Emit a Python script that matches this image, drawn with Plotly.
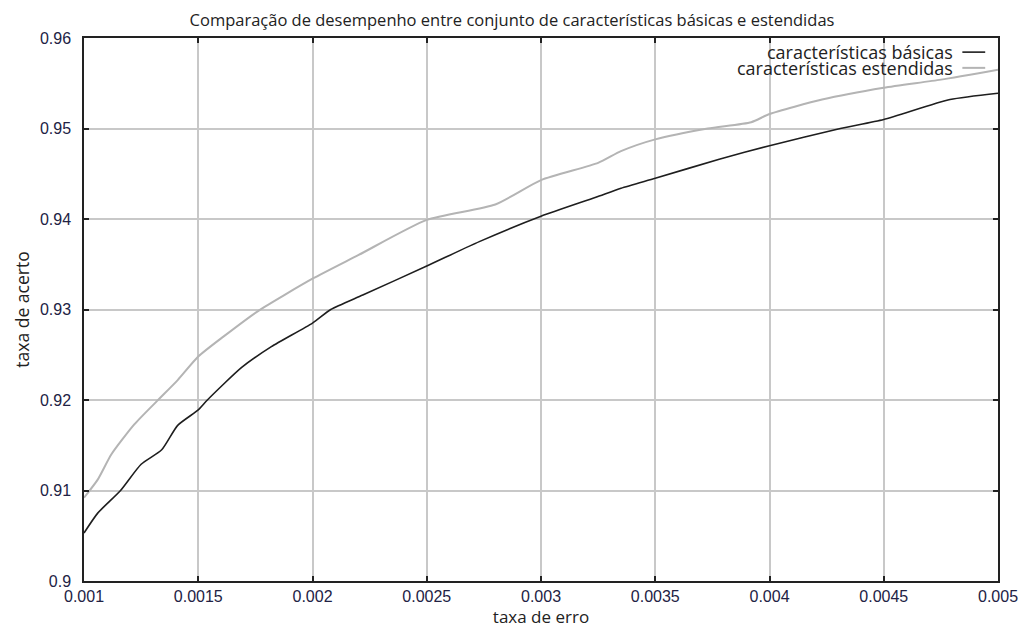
import plotly.graph_objects as go

# taxa de erro / taxa de acerto — características básicas
basic_x = [0.001, 0.00106, 0.00116, 0.00125, 0.00134, 0.00141, 0.0015, 0.00154,
           0.00169, 0.00182, 0.002, 0.00208, 0.00222, 0.0025, 0.00273, 0.003,
           0.00324, 0.00335, 0.0035, 0.00378, 0.004, 0.00431, 0.0045, 0.00479, 0.005]
basic_y = [0.9053, 0.9075, 0.9100, 0.9129, 0.9145, 0.9172, 0.9189, 0.9200,
           0.9236, 0.9259, 0.9285, 0.9300, 0.9316, 0.9348, 0.9375, 0.9403,
           0.9424, 0.9434, 0.9445, 0.9466, 0.9481, 0.9500, 0.9510, 0.9532, 0.9539]

# características estendidas
ext_x = [0.001, 0.00106, 0.00112, 0.00122, 0.00132, 0.00141, 0.0015, 0.00161, 0.00176,
         0.002, 0.0022, 0.0025, 0.0028, 0.003, 0.00325, 0.00335, 0.0035,
         0.00373, 0.00392, 0.004, 0.00423, 0.0045, 0.00475, 0.005]
ext_y = [0.9092, 0.9112, 0.9140, 0.9173, 0.9199, 0.9222, 0.9248, 0.9270, 0.9298,
         0.9334, 0.9360, 0.9399, 0.9416, 0.9443, 0.9462, 0.9475, 0.9488,
         0.9500, 0.9507, 0.9516, 0.9532, 0.9545, 0.9554, 0.9565]

x_ticks = [0.001, 0.0015, 0.002, 0.0025, 0.003, 0.0035, 0.004, 0.0045, 0.005]
x_tick_labels = ["0.001", "0.0015", "0.002", "0.0025", "0.003", "0.0035", "0.004", "0.0045", "0.005"]
y_ticks = [0.9, 0.91, 0.92, 0.93, 0.94, 0.95, 0.96]
y_tick_labels = ["0.9", "0.91", "0.92", "0.93", "0.94", "0.95", "0.96"]

series_names = ["características básicas", "características estendidas"]
series_colors = ["#1e1e1e", "#b4b4b4"]

fig = go.Figure()
fig.add_trace(go.Scatter(x=ext_x, y=ext_y, mode="lines", name=series_names[1],
                         line=dict(color=series_colors[1], width=2, shape="spline", smoothing=0.6),
                         showlegend=False))
fig.add_trace(go.Scatter(x=basic_x, y=basic_y, mode="lines", name=series_names[0],
                         line=dict(color=series_colors[0], width=1.6, shape="spline", smoothing=0.6),
                         showlegend=False))

axis_common = dict(
    showgrid=True, gridcolor="#c8c8c8", gridwidth=1.5,
    showline=True, linecolor="#222222", linewidth=1.5, mirror="ticks",
    ticks="inside", ticklen=5, tickwidth=1.5, tickcolor="#222222",
    zeroline=False, automargin=False,
    tickfont=dict(family="Liberation Sans", size=16, color="#222244"),
)

fig.update_layout(
    width=1024, height=628,
    margin=dict(l=84, r=26, t=38, b=47),
    paper_bgcolor="white", plot_bgcolor="white",
    title=dict(text="Comparação de desempenho entre conjunto de características básicas e estendidas",
               x=0.5, xanchor="center", y=0.968, yanchor="middle",
               font=dict(family="Open Sans", size=16.5, color="#222222")),
    xaxis=dict(range=[0.001, 0.005], tickvals=x_ticks, ticktext=x_tick_labels,
               ticklabelstandoff=0,
               title=dict(text="taxa de erro", standoff=7,
                          font=dict(family="Open Sans", size=17, color="#222222")),
               **axis_common),
    yaxis=dict(range=[0.9, 0.96], tickvals=y_ticks, ticktext=y_tick_labels,
               ticklabelstandoff=8,
               title=dict(text="taxa de acerto", standoff=6,
                          font=dict(family="Open Sans", size=17.5, color="#222222")),
               **axis_common),
)

# gnuplot-style legend: right-aligned text with a line sample to its right
legend_rows = [0.974, 0.945]
for name, color, yy, w in zip(series_names, series_colors, legend_rows, [1.6, 2]):
    fig.add_annotation(xref="paper", yref="paper", x=0.953, y=yy, xanchor="right",
                       yanchor="middle", text=name, showarrow=False,
                       font=dict(family="Open Sans", size=18, color="#222222"))
    fig.add_shape(type="line", xref="paper", yref="paper", x0=0.961, x1=0.986,
                  y0=yy, y1=yy, line=dict(color=color, width=w))

fig.write_html("out.html", config={"displayModeBar": False},
               post_script="document.body.style.margin='0';document.body.style.overflow='hidden';")
